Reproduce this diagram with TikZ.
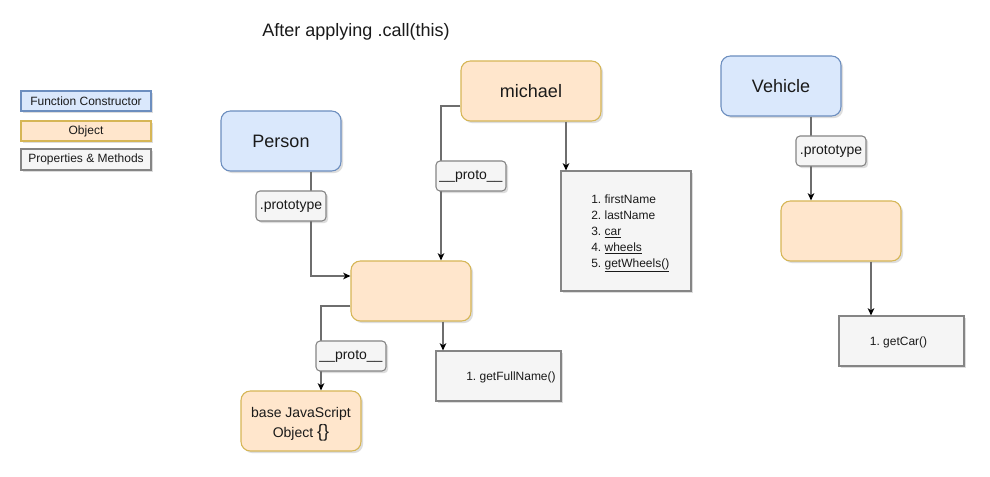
\documentclass[tikz,border=0pt]{standalone}
\usepackage{fontspec}
\setmainfont{Liberation Sans}
\usetikzlibrary{arrows.meta,shadows,calc}
\definecolor{fcfill}{HTML}{DAE8FC}
\definecolor{fcdraw}{HTML}{6C8EBF}
\definecolor{obfill}{HTML}{FFE6CC}
\definecolor{obdraw}{HTML}{D6B656}
\definecolor{pmfill}{HTML}{F5F5F5}
\definecolor{pmdraw}{HTML}{666666}
\definecolor{lncol}{HTML}{6E6E6E}
\definecolor{txt}{HTML}{1A1A1A}
\tikzset{
  shad/.style={drop shadow={shadow xshift=1.6pt,shadow yshift=-1.6pt,opacity=0.22,fill=black!60}},
  fcbox/.style={draw=fcdraw,fill=fcfill,line width=0.8pt,rounded corners=7pt,shad,text=txt,inner sep=0pt},
  obbox/.style={draw=obdraw,fill=obfill,line width=0.8pt,rounded corners=7pt,shad,text=txt,inner sep=0pt,align=center},
  pmbox/.style={draw=pmdraw!80,fill=pmfill,line width=0.8pt,shad,inner sep=0pt},
  lblbox/.style={draw=pmdraw!80,fill=pmfill,line width=0.8pt,rounded corners=3pt,shad,text=txt,inner sep=0pt,font=\fontsize{10.5pt}{12pt}\selectfont},
  legbox/.style={line width=0.8pt,shad,text=txt,inner sep=0pt,minimum width=97.5pt,font=\fontsize{9pt}{11pt}\selectfont},
  conn/.style={draw=lncol,line width=1.1pt,-{Stealth[length=5.5pt,width=5pt,inset=1.6pt,color=black]}},
  txtnode/.style={inner sep=0pt,text=txt}
}
\begin{document}
\frenchspacing
\begin{tikzpicture}[x=0.75pt,y=-0.75pt]
\useasboundingbox (0,0) rectangle (990,477);
\fill[white] (0,0) rectangle (990,477);

% title
\node[txtnode,font=\fontsize{13.5pt}{16pt}\selectfont] (title) at (356,32) {After applying .call(this)};

% legend
\node[legbox,draw=fcdraw,fill=fcfill,minimum height=15pt] (leg1) at (86,101) {Function Constructor};
\node[legbox,draw=obdraw,fill=obfill,minimum height=15pt] (leg2) at (86,131) {Object};
\node[legbox,draw=pmdraw!80,fill=pmfill,minimum height=15.75pt] (leg3) at (86,159.5) {Properties \& Methods};

% main boxes
\node[fcbox,minimum width=90pt,minimum height=45pt,font=\fontsize{13.5pt}{16pt}\selectfont] (person) at (281,141) {Person};
\node[obbox,minimum width=90pt,minimum height=45pt] (mid) at (411,291) {};
\node[obbox,minimum width=105pt,minimum height=45pt,font=\fontsize{13.5pt}{16pt}\selectfont] (michael) at (531,91) {michael};
\node[pmbox,minimum width=97.5pt,minimum height=90pt] (props) at (626,231) {};
\node[pmbox,minimum width=93.75pt,minimum height=37.5pt] (fullname) at (498.5,376) {};
\node[obbox,minimum width=90pt,minimum height=45pt] (base) at (301,421) {};
\node[fcbox,minimum width=90pt,minimum height=45pt,font=\fontsize{13.5pt}{16pt}\selectfont] (vehicle) at (781,86) {Vehicle};
\node[obbox,minimum width=90pt,minimum height=45pt] (vobj) at (841,231) {};
\node[pmbox,minimum width=93.75pt,minimum height=37.5pt] (getcar) at (901.5,341) {};

% box texts
\node[txtnode,align=center,font=\fontsize{10.5pt}{15pt}\selectfont] (basetxt) at (301,424) {base JavaScript\\Object {\fontsize{13.5pt}{15pt}\selectfont\{\}}};
\node[txtnode,anchor=west,align=left,font=\fontsize{9pt}{12pt}\selectfont] (proplist) at (591,233.5)
  {1. firstName\\2. lastName\\3. \underline{car}\\4. \underline{wheels}\\5. \underline{getWheels()}};
\node[txtnode,font=\fontsize{9pt}{11pt}\selectfont] (fulltxt) at (511,377) {1. getFullName()};
\node[txtnode,font=\fontsize{9pt}{11pt}\selectfont] (cartxt) at (898.5,342) {1. getCar()};

% connectors
\draw[conn] ($(person.south)+(30,0)$) |- ($(mid.west)+(0,-15)$);
\draw[conn] ($(michael.west)+(0,15)$) -| ($(mid.north)+(30,0)$);
\draw[conn] ($(michael.south)+(35,0)$) -- ($(props.north)+(-60,0)$);
\draw[conn] ($(mid.south)+(32,0)$) -- ($(fullname.north)+(-55.5,0)$);
\draw[conn] ($(mid.west)+(0,15)$) -| ($(base.north)+(20,0)$);
\draw[conn] ($(vehicle.south)+(30,0)$) -- ($(vobj.north)+(-30,0)$);
\draw[conn] ($(vobj.south)+(30,0)$) -- ($(getcar.north)+(-30.5,0)$);

% labels on connectors
\node[lblbox,minimum width=52.5pt,minimum height=22.5pt] (lblP) at (291,206) {.prototype};
\node[lblbox,minimum width=52.5pt,minimum height=22.5pt] (lblM) at (471,176) {\_\_proto\_\_};
\node[lblbox,minimum width=52.5pt,minimum height=22.5pt] (lblB) at (351,356) {\_\_proto\_\_};
\node[lblbox,minimum width=52.5pt,minimum height=22.5pt] (lblV) at (831,151) {.prototype};
\end{tikzpicture}
\end{document}
